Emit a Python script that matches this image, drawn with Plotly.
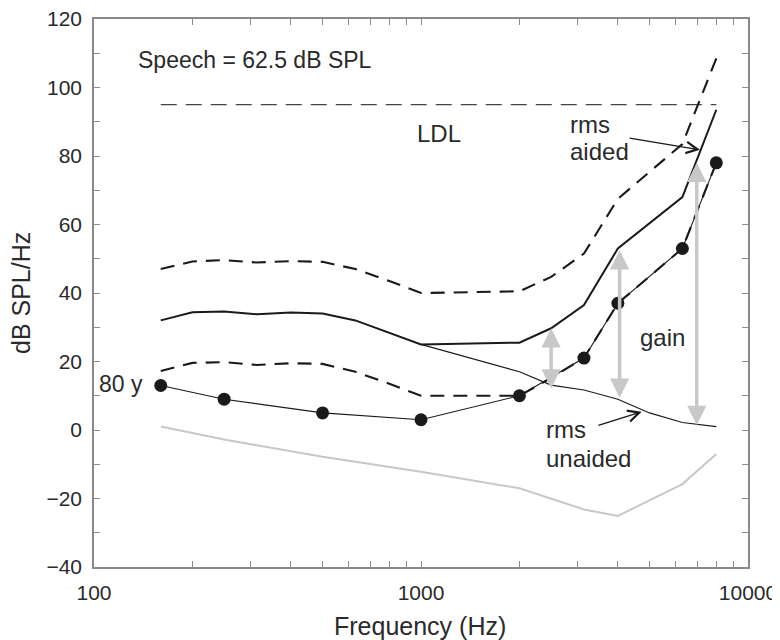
import numpy as np
import plotly.graph_objects as go

# ---------------- data ----------------
freq_dots = [160, 250, 500, 1000, 2000, 3150, 4000, 6300, 8000]
threshold_80y = [13, 9, 5, 3, 10, 21, 37, 53, 78]

freq_band = [160, 200, 250, 315, 400, 500, 630, 800, 1000, 2000, 2500, 3150, 4000, 6300, 8000]
aided_rms = [32, 34.4, 34.6, 33.8, 34.3, 34, 32, 28.5, 25, 25.5, 29.7, 36.5, 53, 68, 93.5]
aided_upper = [47, 49.2, 49.6, 48.9, 49.3, 49.1, 47, 43.5, 40, 40.5, 44.7, 51.5, 67.5, 83.5, 108.5]
aided_lower = [17.2, 19.6, 19.8, 19.0, 19.5, 19.3, 17, 13.5, 10, 10, 15.2, 21, 37, 53, 78]

freq_unaided = [1000, 2000, 2500, 3150, 4000, 5000, 6300, 8000]
unaided_rms = [25, 17, 13.1, 11.7, 9, 5, 2.2, 1]

freq_normal = [160, 250, 500, 1000, 2000, 3150, 4000, 6300, 8000]
normal_thr = [1, -2.8, -7.8, -12.2, -17, -23.2, -25.1, -15.8, -7]

ldl_freq = [160, 8000]
ldl_level = [95, 95]

gain_freq = [2500, 4050, 6970]
gain_top = [29.7, 52.5, 78]
gain_bottom = [11.7, 9, 1]

x_tickvals = [100, 200, 300, 400, 500, 600, 700, 800, 900,
              1000, 2000, 3000, 4000, 5000, 6000, 7000, 8000, 9000, 10000]
x_ticktext = ["100", "", "", "", "", "", "", "", "",
              "1000", "", "", "", "", "", "", "", "", "10000"]
y_tickvals = list(range(-40, 121, 10))
y_ticktext = [("\u2212" + str(-v) if v < 0 else str(v)) if v % 20 == 0 else "" for v in y_tickvals]

FONT = "Liberation Sans, Arial, sans-serif"
TXT = "#2a2a2a"
GRAY = "#c8c8c8"
INK = "#1a1a1a"

fig = go.Figure()

fig.add_trace(go.Scatter(x=freq_normal, y=normal_thr, mode="lines",
                         line=dict(color=GRAY, width=2), showlegend=False))
fig.add_trace(go.Scatter(x=ldl_freq, y=ldl_level, mode="lines",
                         line=dict(color="#444", width=1.4, dash="16px,9px"), showlegend=False))
fig.add_trace(go.Scatter(x=freq_band, y=aided_upper, mode="lines",
                         line=dict(color=INK, width=2.1, dash="14px,9px"), showlegend=False))
fig.add_trace(go.Scatter(x=freq_band, y=aided_lower, mode="lines",
                         line=dict(color=INK, width=2.1, dash="14px,9px"), showlegend=False))
fig.add_trace(go.Scatter(x=freq_band, y=aided_rms, mode="lines",
                         line=dict(color=INK, width=2), showlegend=False))
fig.add_trace(go.Scatter(x=freq_unaided, y=unaided_rms, mode="lines",
                         line=dict(color=INK, width=1.1), showlegend=False))
fig.add_trace(go.Scatter(x=freq_dots, y=threshold_80y, mode="lines+markers",
                         line=dict(color=INK, width=1.1),
                         marker=dict(color=INK, size=13), showlegend=False))

annotations = []
for f, t, b in zip(gain_freq, gain_top, gain_bottom):
    annotations.append(dict(x=np.log10(f), y=t, ax=np.log10(f), ay=b,
                            xref="x", yref="y", axref="x", ayref="y",
                            showarrow=True, arrowhead=2, startarrowhead=2,
                            arrowside="end+start", arrowwidth=3.5, arrowsize=1.1,
                            startarrowsize=1.1, arrowcolor=GRAY, text=""))

annotations.append(dict(x=np.log10(7130), y=81.8, ax=np.log10(4300), ay=85.3,
                        xref="x", yref="y", axref="x", ayref="y",
                        showarrow=True, arrowhead=5, arrowwidth=1.4, arrowsize=1.6,
                        arrowcolor=INK, text=""))
annotations.append(dict(x=np.log10(4730), y=5.3, ax=np.log10(3450), ay=1.2,
                        xref="x", yref="y", axref="x", ayref="y",
                        showarrow=True, arrowhead=5, arrowwidth=1.4, arrowsize=1.6,
                        arrowcolor=INK, text=""))

texts = [
    (135.4, 108.1, "Speech = 62.5 dB SPL", "left", 23),
    (1133, 86.6, "LDL", "center", 24),
    (2835, 89.1, "rms", "left", 24),
    (2835, 81.2, "aided", "left", 24),
    (5477, 26.9, "gain", "center", 24),
    (2393, 0.1, "rms", "left", 24),
    (2393, -8.4, "unaided", "left", 24),
    (142, 13.5, "80 y", "right", 23),
]
for f, yv, t, anc, sz in texts:
    annotations.append(dict(x=np.log10(f), y=yv, xref="x", yref="y", text=t,
                            showarrow=False, xanchor=anc, yanchor="middle",
                            borderpad=0,
                            font=dict(family=FONT, size=sz, color=TXT)))

# axis titles
annotations.append(dict(x=0.4985, y=-0.108, xref="paper", yref="paper",
                        text="Frequency (Hz)", showarrow=False,
                        xanchor="center", yanchor="middle",
                        font=dict(family=FONT, size=25, color=TXT)))
annotations.append(dict(x=-0.1116, y=0.5, xref="paper", yref="paper",
                        text="dB SPL/Hz", showarrow=False, textangle=-90,
                        xanchor="center", yanchor="middle",
                        font=dict(family=FONT, size=25, color=TXT)))

axis_common = dict(showline=True, linecolor="#8a8a8a", linewidth=1.5, mirror="ticks",
                   ticks="inside", ticklen=6, tickcolor="#8a8a8a", tickwidth=1,
                   showgrid=False, zeroline=False, automargin=False,
                   ticklabeloverflow="allow",
                   tickfont=dict(family=FONT, size=21, color=TXT))

fig.update_layout(
    width=780, height=640,
    margin=dict(l=86, r=40, t=11, b=81),
    paper_bgcolor="white", plot_bgcolor="white",
    annotations=annotations,
    xaxis=dict(type="log", range=[2, 4], tickmode="array",
               tickvals=x_tickvals, ticktext=x_ticktext, ticklabelstandoff=6,
               **axis_common),
    yaxis=dict(range=[-40, 120], tickmode="array",
               tickvals=y_tickvals, ticktext=y_ticktext, ticklabelstandoff=6,
               **axis_common),
)

fig.write_html("out.html")
